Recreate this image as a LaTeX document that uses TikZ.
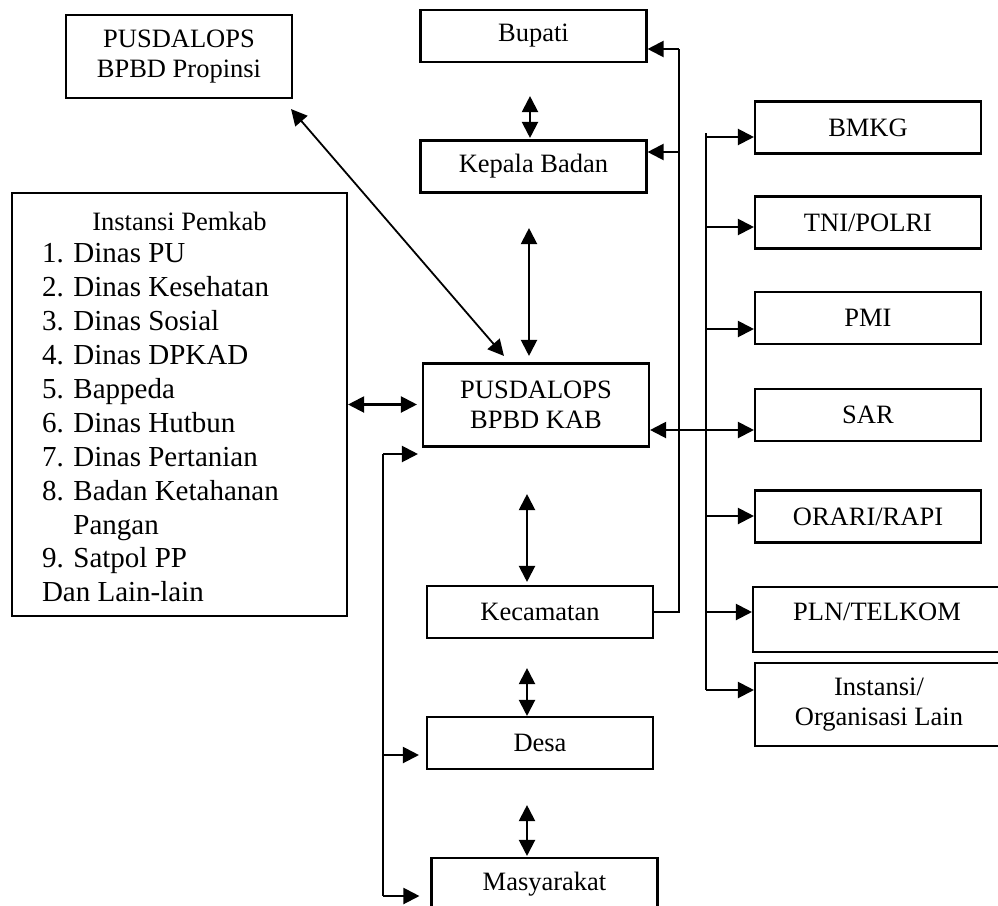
\documentclass[tikz,border=0pt]{standalone}
\usepackage{fontspec}
\setmainfont{Liberation Serif}
\usetikzlibrary{positioning, arrows.meta}

\newcommand{\boxfont}{\fontsize{26.5pt}{30.5pt}\selectfont}
\newcommand{\listfont}{\fontsize{29pt}{33.9pt}\selectfont}

\tikzset{
    box/.style={draw, line width=2.1pt, minimum width=226pt, minimum height=52pt, align=center, font=\boxfont},
    tall/.style={minimum height=83pt},
    wide/.style={minimum width=248pt},
}

\begin{document}
\begin{tikzpicture}[x=1pt, y=-1pt, line width=2.1pt, >={Triangle[length=16pt, width=16pt]}, on grid]
    \useasboundingbox (0,0) rectangle (998,905);

    \node[box] (bup) at (533.5,36) {Bupati};
    \node[box, below=130.5pt of bup] (kep) {Kepala Badan};
    \node[box, tall, below=238.5pt of kep, xshift=2.5pt] (kab) {PUSDALOPS\\BPBD KAB};
    \node[box, below=207pt of kab, xshift=4pt] (kec) {Kecamatan};
    \node[box, below=131pt of kec] (desa) {Desa};
    \node[box, below=141pt of desa, xshift=4.5pt] (masy) {Masyarakat};

    \node[box, tall] (prop) at (179,56.5) {PUSDALOPS\\BPBD Propinsi};
    \node[draw, line width=2.1pt, minimum width=335pt, minimum height=423pt, align=left, inner sep=0pt, font=\listfont] (pemkab) at (179.5,404.5)
        {\rule{0pt}{24pt}\makebox[275pt]{\boxfont Instansi Pemkab}\\[-2pt]
         1. Dinas PU\\2. Dinas Kesehatan\\3. Dinas Sosial\\4. Dinas DPKAD\\5. Bappeda\\6. Dinas Hutbun\\7. Dinas Pertanian\\8. Badan Ketahanan\\\phantom{8. }Pangan\\9. Satpol PP\\Dan Lain-lain};

    \node[box] (bmkg) at (868,127.5) {BMKG};
    \node[box, below=95pt of bmkg] (tni) {TNI/POLRI};
    \node[box, below=95.5pt of tni] (pmi) {PMI};
    \node[box, below=97pt of pmi] (sar) {SAR};
    \node[box, below=101.5pt of sar] (orari) {ORARI/RAPI};
    \node[box, wide, minimum height=65pt, text height=2.6pt, text depth=0pt] (pln) at (877,619.5) {PLN/TELKOM};
    \node[box, wide, tall, below=85pt of pln, xshift=2pt] (lain) {Instansi/\\Organisasi Lain};

    \path[<->]
        ([xshift=-3.5pt]bup.south) edge[shorten <=33pt, shorten >=1.5pt] ([xshift=-3.5pt]kep.north)
        ([xshift=-4.5pt]kep.south) edge[shorten <=34.5pt, shorten >=6.5pt] ([xshift=-7pt]kab.north)
        ([xshift=-9pt]kab.south) edge[shorten <=46.5pt, shorten >=3pt] ([xshift=-13pt]kec.north)
        ([xshift=-13pt]kec.south) edge[shorten <=29pt] ([xshift=-13pt]desa.north)
        ([xshift=-13pt]desa.south) edge[shorten <=35pt, shorten >=1pt] ([xshift=-17.5pt]masy.north)
        ([shift={(-2pt,-10pt)}]prop.south east) edge[line width=1.8pt] ([xshift=82pt, yshift=6.5pt]kab.north west)
        (pemkab.east) edge[shorten >=5pt] (pemkab.east -| kab.west);

    \coordinate (lt) at (383,454);
    \coordinate (lm) at (383,755);
    \coordinate (lb) at (383,896);
    \draw (lt) -- (lb);
    \path[->]
        (lt) edge[shorten >=4pt] (lt -| kab.west)
        (lm) edge[shorten >=7pt] (lm -| desa.west)
        (lb) edge[shorten >=11pt] (lb -| masy.west);

    \coordinate (rt) at (679,49);
    \coordinate (rk) at (679,152);
    \draw (kec.east) -| (rt);
    \path[->]
        (rt) edge (rt -| bup.east)
        (rk) edge (rk -| kep.east);

    \foreach \n/\y in {bmkg/137, tni/227, pmi/329, sar/430, orari/516, pln/612, lain/690} {
        \coordinate (b-\n) at (706,\y);
        \draw[->] (b-\n) -- (b-\n -| \n.west);
    }
    \draw ([yshift=4pt]b-bmkg) -- (b-lain);
    \draw[->] (b-sar) -- (b-sar -| kab.east);
\end{tikzpicture}
\end{document}
